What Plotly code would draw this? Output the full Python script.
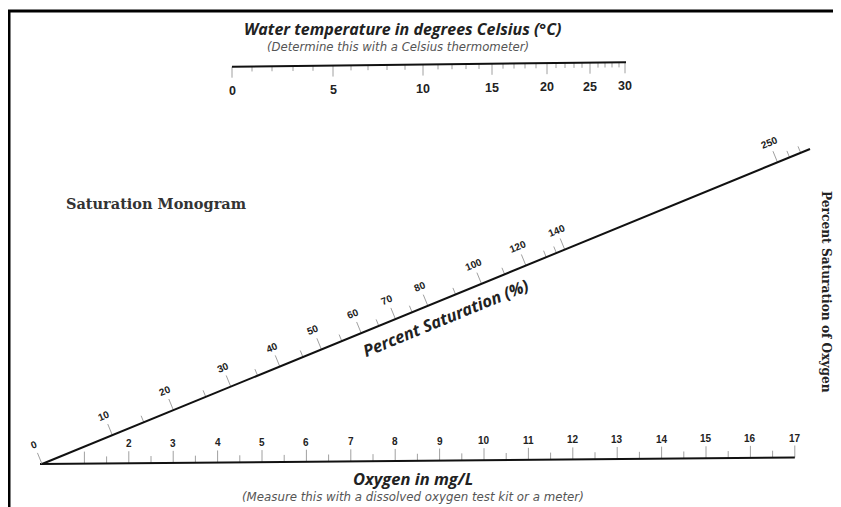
import math
import plotly.graph_objects as go

W, H = 841, 507
PAD = 8  # the page body has an 8px margin; shift the drawing so it lines up with the window

# ---------------- data ----------------
# Top scale: water temperature (deg C) and the position of each degree along the scale (px)
temp_values = [0, 1, 2, 3, 4, 5, 6, 7, 8, 9, 10, 11, 12, 13, 14, 15, 16, 17, 18, 19, 20,
               21, 22, 23, 24, 25, 26, 27, 28, 29, 30]
temp_pos = [232, 252, 272, 293, 313, 333, 351, 368, 387, 405, 423, 438, 452, 466, 479, 492,
            503, 514, 525, 536, 547, 556, 565, 574, 582, 590, 598, 605, 612, 619, 625]
temp_labels = [0, 5, 10, 15, 20, 25, 30]

# Bottom scale: oxygen in mg/L
oxy_major = [1, 2, 3, 4, 5, 6, 7, 8, 9, 10, 11, 12, 13, 14, 15, 16, 17]
oxy_minor = [1.5, 2.5, 3.5, 4.5, 5.5, 6.5, 7.5, 8.5, 9.5, 10.5, 11.5, 12.5, 13.5, 14.5,
             15.5, 16.5]
oxy_labels = [2, 3, 4, 5, 6, 7, 8, 9, 10, 11, 12, 13, 14, 15, 16, 17]

# Diagonal scale: percent saturation and distance along the diagonal (px)
sat_major = [0, 10, 20, 30, 40, 50, 60, 70, 80, 100, 120, 140, 250]
sat_major_pos = [0, 76, 142, 204, 257, 302, 345, 382, 417, 475, 523, 565, 795]
sat_minor = [15, 25, 35, 45, 55, 65, 75, 90, 110, 130, 135, 260, 270]
sat_minor_pos = [110, 177, 233, 282, 324, 364, 400, 447, 500, 545, 556, 808, 820]

# ---------------- geometry ----------------
T0 = (232.0, 66.7)
T1 = (626.0, 62.3)
def top_y(x):
    return T0[1] + (x - T0[0]) * (T1[1] - T0[1]) / (T1[0] - T0[0])

B_X0, B_DX = 40.0, 44.4
B_Y0, B_Y1 = 464.0, 457.5
def oxy_x(v):
    return B_X0 + B_DX * v
def bot_y(x):
    return B_Y0 + (x - oxy_x(0)) * (B_Y1 - B_Y0) / (oxy_x(17) - oxy_x(0))

O = (42.0, 464.0)
E = (810.0, 149.0)
L = math.hypot(E[0] - O[0], E[1] - O[1])
d = ((E[0] - O[0]) / L, (E[1] - O[1]) / L)
n = (d[1], -d[0])  # up-left normal
ANG = math.degrees(math.atan2(-(E[1] - O[1]), E[0] - O[0]))
def diag(t, off=0.0):
    return (O[0] + d[0] * t + n[0] * off, O[1] + d[1] * t + n[1] * off)

fig = go.Figure()
LINE = dict(color="#111111", width=2)
TICK = dict(color="#a0a0a0", width=1)

# frame
fig.add_trace(go.Scatter(x=[9, 9, W + 2], y=[H + 2, 11, 11], mode="lines",
                         line=dict(color="#000000", width=3), hoverinfo="skip"))

# ---- top scale
tx, ty = [], []
for v, p in zip(temp_values, temp_pos):
    ln = 11 if v in temp_labels else 5
    y0 = top_y(p)
    tx += [p, p, None]
    ty += [y0, y0 + ln, None]
fig.add_trace(go.Scatter(x=tx, y=ty, mode="lines", line=TICK, hoverinfo="skip"))
fig.add_trace(go.Scatter(x=[T0[0], T1[0]], y=[T0[1], T1[1]], mode="lines", line=LINE,
                         hoverinfo="skip"))

# ---- bottom scale
bx, by = [], []
for v in oxy_major:
    x = oxy_x(v); y0 = bot_y(x)
    bx += [x, x, None]; by += [y0, y0 - 12, None]
for v in oxy_minor:
    x = oxy_x(v); y0 = bot_y(x)
    bx += [x, x, None]; by += [y0, y0 - 7, None]
fig.add_trace(go.Scatter(x=bx, y=by, mode="lines", line=TICK, hoverinfo="skip"))
fig.add_trace(go.Scatter(x=[oxy_x(0), oxy_x(17)], y=[bot_y(oxy_x(0)), bot_y(oxy_x(17))],
                         mode="lines", line=LINE, hoverinfo="skip"))

# ---- diagonal scale
dx_, dy_ = [], []
for t in sat_major_pos:
    a = diag(t); b = diag(t, 12)
    dx_ += [a[0], b[0], None]; dy_ += [a[1], b[1], None]
for t in sat_minor_pos:
    a = diag(t); b = diag(t, 7)
    dx_ += [a[0], b[0], None]; dy_ += [a[1], b[1], None]
fig.add_trace(go.Scatter(x=dx_, y=dy_, mode="lines", line=TICK, hoverinfo="skip"))
fig.add_trace(go.Scatter(x=[O[0], E[0]], y=[O[1], E[1]], mode="lines", line=LINE,
                         hoverinfo="skip"))

ann = []
NUMF = "Liberation Sans"
for v, p in zip(temp_values, temp_pos):
    if v in temp_labels:
        ann.append(dict(x=p, y=top_y(p) + 24, text=f"<b>{v}</b>", showarrow=False,
                        font=dict(family=NUMF, size=12.5, color="#222")))
for v in oxy_labels:
    x = oxy_x(v)
    ann.append(dict(x=x, y=bot_y(x) - 19.5, text=f"<b>{v}</b>", showarrow=False,
                    font=dict(family=NUMF, size=10, color="#222")))
for v, t in zip(sat_major, sat_major_pos):
    px, py = diag(t, 21)
    ann.append(dict(x=px, y=py, text=f"<b>{v}</b>", showarrow=False, textangle=-ANG,
                    font=dict(family=NUMF, size=10, color="#222")))

SANS = "Open Sans"
SUB = "DejaVu Sans"
SERIF = "DejaVu Serif"
pc = diag(429, -18)
ann += [
    dict(x=402, y=28.5, text="<b><i>Water temperature in degrees Celsius (°C)</i></b>",
         showarrow=False, font=dict(family=SANS, size=16, color="#222")),
    dict(x=398, y=46.5, text="<i>(Determine this with a Celsius thermometer)</i>",
         showarrow=False, font=dict(family=SUB, size=11.7, color="#555")),
    dict(x=156, y=203, text="<b>Saturation Monogram</b>", showarrow=False,
         font=dict(family=SERIF, size=14.5, color="#333")),
    dict(x=pc[0], y=pc[1], text="<b><i>Percent Saturation (%)</i></b>", showarrow=False,
         textangle=-ANG, font=dict(family=SANS, size=16.5, color="#222")),
    dict(x=413, y=478, text="<b><i>Oxygen in mg/L</i></b>", showarrow=False,
         font=dict(family=SANS, size=16.5, color="#222")),
    dict(x=413, y=497, text="<i>(Measure this with a dissolved oxygen test kit or a meter)</i>",
         showarrow=False, font=dict(family=SUB, size=11.8, color="#555")),
    dict(x=826, y=292, text="<b>Percent Saturation of Oxygen</b>", showarrow=False,
         textangle=90, font=dict(family=SERIF, size=12.2, color="#222")),
]

fig.update_layout(
    width=W - PAD, height=H - PAD,
    margin=dict(l=0, r=0, t=0, b=0),
    paper_bgcolor="white", plot_bgcolor="white",
    showlegend=False,
    xaxis=dict(range=[PAD, W], visible=False, fixedrange=True),
    yaxis=dict(range=[H, PAD], visible=False, fixedrange=True),
    annotations=ann,
)
fig.write_html("out.html", config={"displayModeBar": False})
